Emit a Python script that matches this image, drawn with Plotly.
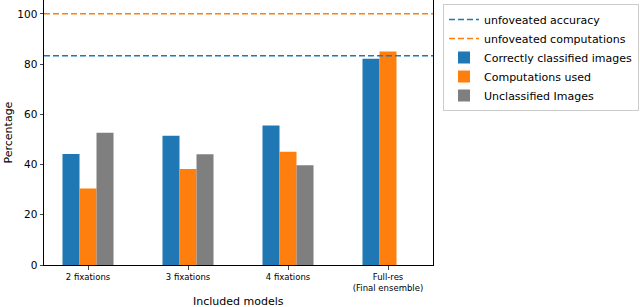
import plotly.graph_objects as go

categories = ["2 fixations", "3 fixations", "4 fixations", "Full-res<br>(Final ensemble)"]
correct = [44.2, 51.5, 55.5, 82.1]
computations = [30.5, 38.2, 45.1, 85.0]
unclassified = [52.7, 44.1, 39.7, None]
unfoveated_accuracy = 83.3
unfoveated_computations = 100.0

xpos = list(range(len(categories)))
xr = [-0.44, 3.45]

fig = go.Figure()
fig.add_trace(go.Scatter(x=xr, y=[unfoveated_accuracy]*2, mode="lines",
                         line=dict(color="#1f77b4", dash="6px,3px", width=1.5),
                         name="unfoveated accuracy"))
fig.add_trace(go.Scatter(x=xr, y=[unfoveated_computations]*2, mode="lines",
                         line=dict(color="#ff7f0e", dash="6px,3px", width=1.5),
                         name="unfoveated computations"))
fig.add_trace(go.Bar(x=xpos, y=correct, name="Correctly classified images", marker_color="#1f77b4", marker_line_width=0))
fig.add_trace(go.Bar(x=xpos, y=computations, name="Computations used", marker_color="#ff7f0e", marker_line_width=0))
fig.add_trace(go.Bar(x=xpos, y=unclassified, name="Unclassified Images", marker_color="#7f7f7f", marker_line_width=0))

L, R, T, B = 44, 207, 0, 42
W, H = 640, 307
plot_h = H - T - B
plot_w = W - L - R

fig.update_layout(
    width=W, height=H,
    margin=dict(l=L, r=R, t=T, b=B, autoexpand=False),
    paper_bgcolor="white", plot_bgcolor="white",
    font=dict(family="DejaVu Sans", color="black", size=11),
    barmode="group", bargap=0.49, bargroupgap=0,
    showlegend=True,
    legend=dict(x=(443 - L) / plot_w, y=1 - (4 - T) / plot_h, xanchor="left", yanchor="top",
                bordercolor="#cccccc", borderwidth=1, font=dict(size=11),
                tracegroupgap=0, itemwidth=30),
    xaxis=dict(range=xr, tickmode="array", tickvals=xpos, ticktext=categories,
               tickfont=dict(size=8.5), showline=True, linecolor="black", mirror=True,
               ticks="outside", ticklen=3.5, showgrid=False, zeroline=False, automargin=False),
    yaxis=dict(range=[0, 105.5], tickvals=[0, 20, 40, 60, 80, 100],
               tickfont=dict(size=10.5), showline=True, linecolor="black", mirror=True,
               ticks="outside", ticklen=3.5, showgrid=False, zeroline=False, automargin=False),
    annotations=[
        dict(text="Included models", x=0.5, xref="paper", y=-(301 - (H - B)) / plot_h,
             yref="paper", yanchor="middle", showarrow=False, font=dict(size=11)),
        dict(text="Percentage", x=-(L - 8) / plot_w, xanchor="center", y=0.5,
             xref="paper", yref="paper", textangle=-90, showarrow=False, font=dict(size=11)),
    ],
)

fig.write_html("out.html", config={"displayModeBar": False},
               post_script="document.body.style.margin='0px';")
